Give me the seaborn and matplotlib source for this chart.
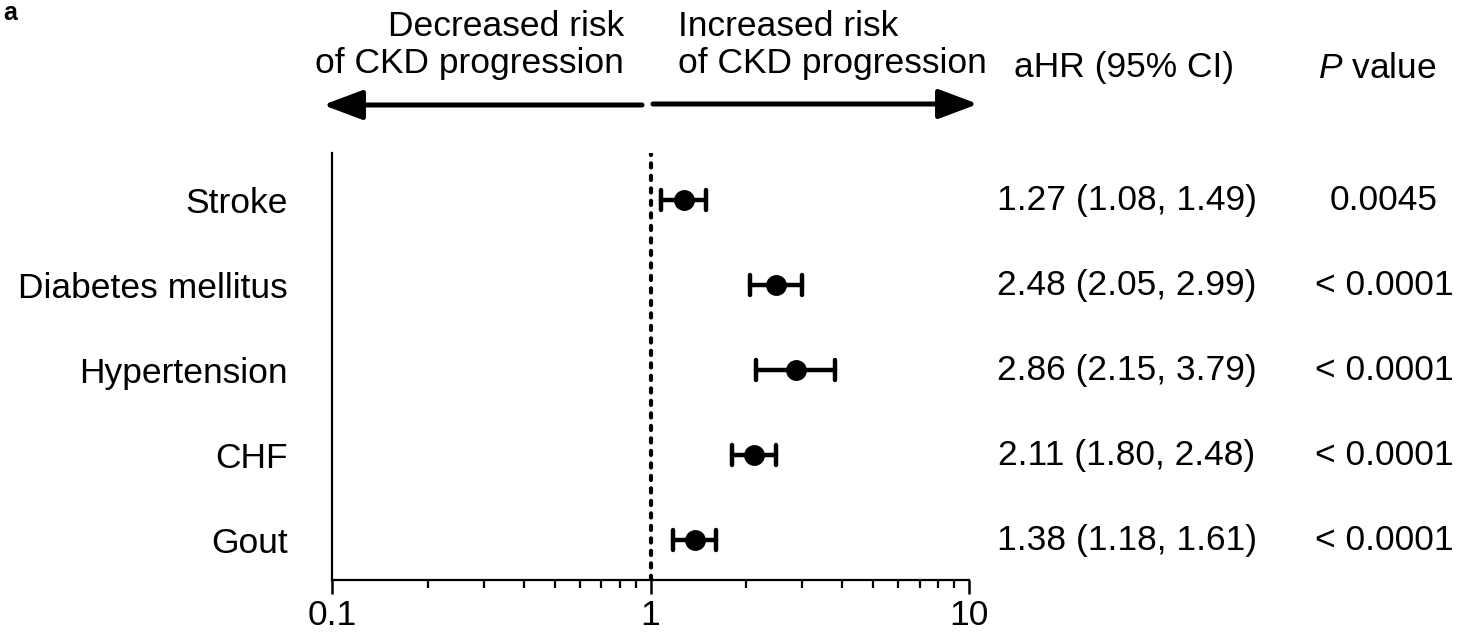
import numpy as np
import pandas as pd
import matplotlib
matplotlib.use("Agg")
import matplotlib.pyplot as plt
import seaborn as sns
from matplotlib.transforms import blended_transform_factory
from matplotlib.ticker import FixedLocator, LogLocator, NullFormatter

# ---- data ----
categories = ["Stroke", "Diabetes mellitus", "Hypertension", "CHF", "Gout"]
hr = [1.27, 2.48, 2.86, 2.11, 1.38]
ci_low = [1.08, 2.05, 2.15, 1.80, 1.18]
ci_high = [1.49, 2.99, 3.79, 2.48, 1.61]
p_values = ["0.0045", "< 0.0001", "< 0.0001", "< 0.0001", "< 0.0001"]
x_ticks = [0.1, 1, 10]
x_tick_labels = ["0.1", "1", "10"]

sns.set_theme(style="ticks")
plt.rcParams["font.family"] = ["Liberation Sans", "DejaVu Sans"]
plt.rcParams["mathtext.fontset"] = "custom"
plt.rcParams["mathtext.it"] = "Liberation Sans:italic"
plt.rcParams["mathtext.rm"] = "Liberation Sans"
plt.rcParams["text.color"] = "black"
plt.rcParams["xtick.color"] = "black"
plt.rcParams["ytick.color"] = "black"
FS = 25.5
W, H = 1458, 634

fig = plt.figure(figsize=(W / 100, H / 100), dpi=100)
ax = fig.add_axes([332 / W, 1 - 580 / H, (969 - 332) / W, (580 - 153) / H])

long = pd.DataFrame({
    "condition": np.repeat(categories, 3),
    "value": np.ravel(np.column_stack([ci_low, hr, ci_high])),
})

sns.pointplot(data=long, x="value", y="condition", order=categories,
              estimator=np.median, errorbar=("pi", 100), linestyle="none",
              capsize=0.24, color="black", markersize=13,
              err_kws={"linewidth": 3.2}, log_scale=True, ax=ax)

ax.set_xlim(0.1, 10)
ax.set_ylim(4.47, -0.553)
ax.axvline(1, color="black", lw=3, ls=(0, (1, 2)), dash_capstyle="round", zorder=0)

for s in ["top", "right"]:
    ax.spines[s].set_visible(False)
for s in ["left", "bottom"]:
    ax.spines[s].set_linewidth(1.6)
    ax.spines[s].set_color("black")

ax.set_xlabel("")
ax.set_ylabel("")
ax.xaxis.set_major_locator(FixedLocator(x_ticks))
ax.set_xticklabels(x_tick_labels)
ax.xaxis.set_minor_locator(LogLocator(base=10, subs=np.arange(2, 10)))
ax.xaxis.set_minor_formatter(NullFormatter())
ax.tick_params(axis="x", which="major", length=10, width=1.8, color="black",
               labelsize=FS, pad=4, labelcolor="black")
ax.tick_params(axis="x", which="minor", length=6, width=1.6, color="black")
ax.tick_params(axis="y", length=0, pad=32, labelsize=FS, labelcolor="black")

trans = blended_transform_factory(fig.transFigure, ax.transData)
for i in range(len(categories)):
    ax.text(1127 / W, i, f"{hr[i]:.2f} ({ci_low[i]:.2f}, {ci_high[i]:.2f})",
            transform=trans, ha="center", va="center", fontsize=FS, clip_on=False)
    ax.text(1384 / W, i, p_values[i], transform=trans, ha="center", va="center",
            fontsize=FS, clip_on=False)

fig.text(1124 / W, 1 - 68 / H, "aHR (95% CI)", ha="center", va="center", fontsize=FS)
fig.text(1377 / W, 1 - 68 / H, r"$P$ value", ha="center", va="center", fontsize=FS)

fig.text(624 / W, 1 - 45 / H, "Decreased risk\nof CKD progression", ha="right",
         va="center", multialignment="right", fontsize=FS, linespacing=1.13)
fig.text(678 / W, 1 - 45 / H, "Increased risk\nof CKD progression", ha="left",
         va="center", multialignment="left", fontsize=FS, linespacing=1.13)

arrow_kw = dict(arrowstyle="-|>,head_length=1.2,head_width=0.45", lw=3.6,
                color="black", shrinkA=0, shrinkB=0, mutation_scale=20)
ax.annotate("", xy=(323 / W, 1 - 105 / H), xytext=(642 / W, 1 - 105 / H),
            xycoords="figure fraction", textcoords="figure fraction", arrowprops=arrow_kw)
ax.annotate("", xy=(978 / W, 1 - 104 / H), xytext=(653 / W, 1 - 104 / H),
            xycoords="figure fraction", textcoords="figure fraction", arrowprops=arrow_kw)

fig.text(0.002, 0.998, "a", ha="left", va="top", fontsize=18, fontweight="bold")

fig.savefig("out.png", dpi=100)
